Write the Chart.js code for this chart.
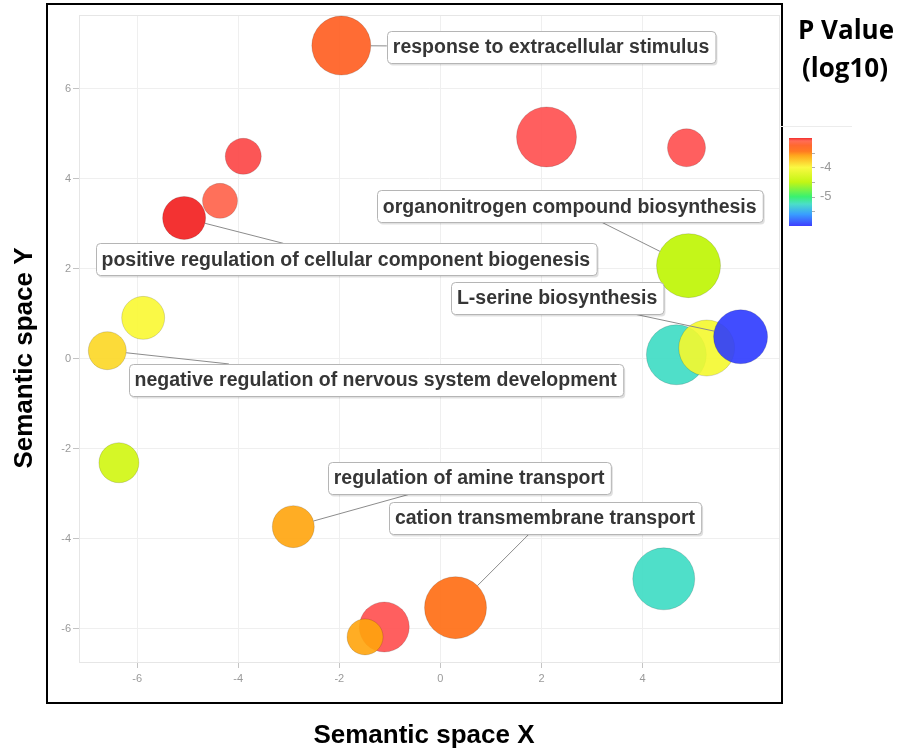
<!DOCTYPE html>
<html>
<head>
<meta charset="utf-8">
<script src="https://cdn.jsdelivr.net/npm/chart.js@4.4.1/dist/chart.umd.min.js"></script>
<style>
  html, body { margin: 0; padding: 0; background: #fff; }
  #wrap { width: 901px; height: 753px; position: relative; }
</style>
</head>
<body>
<div id="wrap"><canvas id="graficoRevigo"></canvas></div>
<script>
// coordenadas semanticas de cada termo GO
const semX = [-1.96, 2.10, 4.87, -3.90, -4.36, -5.07, 4.91, -5.88, -6.59, 4.67, 5.27, 5.94, -6.36, -2.91, 4.42, 0.30, -1.11, -1.49];
const semY = [6.96, 4.93, 4.69, 4.50, 3.51, 3.13, 2.07, 0.91, 0.18, 0.09, 0.24, 0.49, -2.31, -3.73, -4.89, -5.53, -5.96, -6.18];
const tamanho = [29.5, 30, 19, 18, 17.5, 21.5, 32, 21.5, 19, 30, 28, 27, 20, 21, 31, 31, 25, 18];
const logP = [-3.25, -3.0, -3.0, -2.98, -3.1, -2.9, -4.5, -4.0, -3.85, -5.25, -4.05, -5.95, -4.35, -3.62, -5.25, -3.42, -3.0, -3.62];

// rotulos (texto, ponto ligado, posicao do centro da caixa)
const rotulos = [
    'response to extracellular stimulus',
    'organonitrogen compound biosynthesis',
    'positive regulation of cellular component biogenesis',
    'L-serine biosynthesis',
    'negative regulation of nervous system development',
    'regulation of amine transport',
    'cation transmembrane transport'
];
const rotuloPonto = [0, 6, 5, 11, 8, 13, 15];
const rotuloX = [2.19, 2.56, -1.87, 2.31, -1.28, 0.57, 2.07];
const rotuloY = [6.93, 3.39, 2.21, 1.36, -0.47, -2.64, -3.54];

const ticksX = [-6, -4, -2, 0, 2, 4];
const ticksY = [-6, -4, -2, 0, 2, 4, 6];
const ticksCor = [-4, -5];
const limitesCor = [-6, -3];

// gradiente blue -> green -> yellow -> red
const escalaCor = [
    [-6.0, [45, 45, 255]],
    [-5.6, [40, 150, 255]],
    [-5.25, [60, 220, 195]],
    [-5.0, [40, 240, 100]],
    [-4.5, [190, 245, 0]],
    [-4.0, [250, 248, 50]],
    [-3.6, [255, 160, 10]],
    [-3.45, [255, 110, 15]],
    [-3.25, [255, 92, 30]],
    [-3.1, [255, 96, 72]],
    [-3.0, [255, 78, 78]],
    [-2.9, [242, 28, 28]]
];

function corDe(v, alpha) {
    if (v <= escalaCor[0][0]) v = escalaCor[0][0];
    if (v >= escalaCor[escalaCor.length - 1][0]) v = escalaCor[escalaCor.length - 1][0];
    for (let i = 0; i < escalaCor.length - 1; i++) {
        const a = escalaCor[i], b = escalaCor[i + 1];
        if (v >= a[0] && v <= b[0]) {
            const t = (v - a[0]) / (b[0] - a[0]);
            const c = a[1].map((x, k) => Math.round(x + (b[1][k] - x) * t));
            return 'rgba(' + c[0] + ',' + c[1] + ',' + c[2] + ',' + alpha + ')';
        }
    }
    return 'rgba(0,0,0,' + alpha + ')';
}

const pontos = semX.map((x, i) => ({ x: x, y: semY[i], r: tamanho[i] }));

const fonteTexto = '"Liberation Sans", Arial, sans-serif';

const revigoPlugin = {
    id: 'revigo',
    beforeDraw(chart) {
        const ctx = chart.ctx;
        ctx.save();
        ctx.fillStyle = '#fff';
        ctx.fillRect(0, 0, chart.width, chart.height);
        ctx.restore();
    },
    beforeDatasetsDraw(chart) {
        const ctx = chart.ctx, a = chart.chartArea;
        ctx.save();
        ctx.strokeStyle = '#e6e6e6';
        ctx.lineWidth = 1;
        ctx.strokeRect(a.left + 0.5, a.top + 0.5, a.right - a.left - 1, a.bottom - a.top - 1);
        ctx.restore();
    },
    afterDatasetsDraw(chart) {
        const ctx = chart.ctx;
        const sx = chart.scales.x, sy = chart.scales.y;
        ctx.save();
        ctx.font = 'bold 19.5px ' + fonteTexto;
        const caixas = rotulos.map((txt, i) => {
            const w = ctx.measureText(txt).width + 12;
            const h = 32;
            return { txt: txt, cx: sx.getPixelForValue(rotuloX[i]), cy: sy.getPixelForValue(rotuloY[i]), w: w, h: h };
        });
        // segmentos
        ctx.strokeStyle = '#8c8c8c';
        ctx.lineWidth = 1;
        caixas.forEach((b, i) => {
            const p = rotuloPonto[i];
            const px = sx.getPixelForValue(semX[p]), py = sy.getPixelForValue(semY[p]);
            const dx = px - b.cx, dy = py - b.cy;
            const len = Math.hypot(dx, dy);
            const t = Math.min((b.w / 2) / Math.abs(dx || 1e-9), (b.h / 2) / Math.abs(dy || 1e-9));
            const x0 = b.cx + dx * t, y0 = b.cy + dy * t;
            const x1 = px - dx / len * tamanho[p], y1 = py - dy / len * tamanho[p];
            if (t < 1) {
                ctx.beginPath();
                ctx.moveTo(x0, y0);
                ctx.lineTo(x1, y1);
                ctx.stroke();
            }
        });
        // caixas
        caixas.forEach(b => {
            const x = Math.round(b.cx - b.w / 2) + 0.5, y = Math.round(b.cy - b.h / 2) + 0.5;
            ctx.fillStyle = 'rgba(0,0,0,0.12)';
            ctx.beginPath();
            ctx.roundRect(x + 1.5, y + 2, b.w, b.h, 4);
            ctx.fill();
            ctx.fillStyle = '#fff';
            ctx.strokeStyle = '#b5b5b5';
            ctx.beginPath();
            ctx.roundRect(x, y, b.w, b.h, 4);
            ctx.fill();
            ctx.stroke();
            ctx.fillStyle = '#363636';
            ctx.textAlign = 'center';
            ctx.textBaseline = 'middle';
            ctx.fillText(b.txt, b.cx, b.cy + 1);
        });
        ctx.restore();
    },
    afterDraw(chart) {
        const ctx = chart.ctx;
        ctx.save();
        // moldura preta
        ctx.strokeStyle = '#000';
        ctx.lineWidth = 2;
        ctx.strokeRect(47, 4, 735, 699);

        // titulos dos eixos
        ctx.fillStyle = '#000';
        ctx.font = 'bold 26px ' + fonteTexto;
        ctx.textAlign = 'center';
        ctx.textBaseline = 'middle';
        ctx.fillText('Semantic space X', 424, 736);
        ctx.save();
        ctx.translate(25, 358);
        ctx.rotate(-Math.PI / 2);
        ctx.fillText('Semantic space Y', 0, 0);
        ctx.restore();

        // titulo da legenda
        ctx.font = 'bold 26px "Open Sans", sans-serif';
        ctx.fillText('P Value', 846, 32);
        ctx.fillText('(log10)', 845, 70);

        // barra de cores
        const bx = 789, bw = 23, topo = 138, base = 226;
        const yDe = v => topo + (limitesCor[1] - v) / (limitesCor[1] - limitesCor[0]) * (base - topo);
        const grad = ctx.createLinearGradient(0, base, 0, topo);
        escalaCor.filter(s => s[0] >= limitesCor[0] && s[0] <= limitesCor[1]).forEach(s => {
            grad.addColorStop((s[0] - limitesCor[0]) / (limitesCor[1] - limitesCor[0]), corDe(s[0] === limitesCor[1] ? -2.9 : s[0], 0.92));
        });
        ctx.fillStyle = grad;
        ctx.fillRect(bx, topo, bw, base - topo);
        ctx.strokeStyle = '#ececec';
        ctx.lineWidth = 1;
        ctx.beginPath();
        ctx.moveTo(780, 126.5);
        ctx.lineTo(852, 126.5);
        ctx.stroke();
        ctx.strokeStyle = '#b0b0b0';
        for (let v = -3.5; v >= -5.5; v -= 0.5) {
            const y = Math.round(yDe(v)) + 0.5;
            ctx.beginPath();
            ctx.moveTo(bx + bw, y);
            ctx.lineTo(bx + bw + 3, y);
            ctx.stroke();
        }
        ctx.fillStyle = '#9a9a9a';
        ctx.font = '13px ' + fonteTexto;
        ctx.textAlign = 'left';
        ticksCor.forEach(v => ctx.fillText(String(v), bx + bw + 8, yDe(v)));
        ctx.restore();
    }
};

new Chart(document.getElementById('graficoRevigo'), {
    type: 'bubble',
    data: {
        datasets: [{
            data: pontos,
            backgroundColor: logP.map(v => corDe(v, 0.9)),
            borderColor: 'rgba(0,0,0,0.14)',
            borderWidth: 1,
            hoverRadius: 0
        }]
    },
    options: {
        responsive: true,
        maintainAspectRatio: false,
        animation: false,
        events: [],
        layout: { autoPadding: false, padding: { left: 46, right: 121, top: 15, bottom: 50 } },
        plugins: { legend: { display: false }, tooltip: { enabled: false } },
        scales: {
            x: {
                type: 'linear',
                min: -7.15,
                max: 6.72,
                afterBuildTicks: s => { s.ticks = ticksX.map(v => ({ value: v })); },
                afterFit: s => { s.height = 40; },
                grid: { color: '#efefef', tickColor: '#c4c4c4', tickLength: 5 },
                border: { display: false },
                ticks: { color: '#9a9a9a', font: { size: 11, family: fonteTexto }, padding: 4, maxRotation: 0 }
            },
            y: {
                type: 'linear',
                min: -6.76,
                max: 7.64,
                afterBuildTicks: s => { s.ticks = ticksY.map(v => ({ value: v })); },
                afterFit: s => { s.width = 33; },
                grid: { color: '#efefef', tickColor: '#c4c4c4', tickLength: 6 },
                border: { display: false },
                ticks: { color: '#9a9a9a', font: { size: 11, family: fonteTexto }, padding: 2 }
            }
        }
    },
    plugins: [revigoPlugin]
});
</script>
</body>
</html>
